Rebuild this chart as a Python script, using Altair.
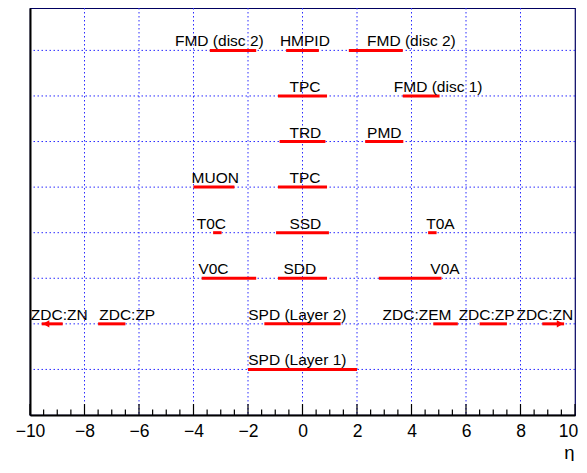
import altair as alt
import pandas as pd

# ---- data ----
names = ["FMD (disc 2)", "HMPID", "FMD (disc 2)", "TPC", "FMD (disc 1)", "TRD", "PMD",
         "MUON", "TPC", "T0C", "SSD", "T0A", "V0C", "SDD", "V0A",
         "ZDC:ZN", "ZDC:ZP", "SPD (Layer 2)", "ZDC:ZEM", "ZDC:ZP", "ZDC:ZN", "SPD (Layer 1)"]
rows = [8, 8, 8, 7, 7, 6, 6, 5, 5, 4, 4, 4, 3, 3, 3, 2, 2, 2, 2, 2, 2, 1]
eta_min = [-3.40, -0.60, 1.70, -0.90, 3.68, -0.84, 2.30, -4.00, -0.90, -3.28, -0.97, 4.61,
           -3.70, -0.90, 2.80, -9.57, -7.50, -1.40, 4.80, 6.50, 8.80, -2.00]
eta_max = [-1.70, 0.60, 3.68, 0.90, 5.03, 0.84, 3.70, -2.50, 0.90, -2.97, 0.97, 4.92,
           -1.70, 0.90, 5.10, -8.80, -6.50, 1.40, 5.70, 7.50, 9.60, 2.00]
label_eta = [-4.68, -0.83, 2.37, -0.48, 3.35, -0.48, 2.37, -4.07, -0.48, -3.88, -0.48, 4.54,
             -3.82, -0.70, 4.69, -9.97, -7.46, -1.99, 2.94, 5.73, 7.85, -1.99]

arrow_eta = [-9.41, 9.45]
arrow_row = [2, 2]
arrow_shape = ["triangle-left", "triangle-right"]

grid_x = [-8, -6, -4, -2, 0, 2, 4, 6, 8]
grid_y = [1, 2, 3, 4, 5, 6, 7, 8]
major_ticks = [-10, -8, -6, -4, -2, 0, 2, 4, 6, 8, 10]
minor_ticks = [v / 2 for v in range(-20, 21) if v % 4 != 0]

W, H = 545, 407
FONT = "Liberation Sans"

seg = pd.DataFrame({"name": names, "row": rows, "lo": eta_min, "hi": eta_max, "lx": label_eta})
arr = pd.DataFrame({"eta": arrow_eta, "row": arrow_row, "shape": arrow_shape})
gx = pd.DataFrame({"v": grid_x})
gy = pd.DataFrame({"v": grid_y})
tmaj = pd.DataFrame({"v": major_ticks})
tmin = pd.DataFrame({"v": minor_ticks})

xs = alt.Scale(domain=[-10, 10], nice=False, zero=False)
ys = alt.Scale(domain=[0, 8.93], nice=False, zero=False)

x_axis = alt.Axis(values=major_ticks, ticks=False, grid=False, domain=True,
                  domainColor="black", domainWidth=2, labelFont=FONT, labelFontSize=17.5,
                  labelColor="black", labelPadding=7, labelFlush=False,
                  labelOffset={"condition": {"test": "datum.value == 10", "value": -7}, "value": 0},
                  title="η", titleFont=FONT, titleFontSize=18.5, titleFontWeight="normal",
                  titleColor="black", titleAnchor="end", titleAlign="right",
                  titleBaseline="alphabetic", titleX=W - 1, titleY=43, zindex=1)
y_axis = alt.Axis(labels=False, ticks=False, grid=False, domain=True,
                  domainColor="black", domainWidth=2, title=None, zindex=1)

grid_color = "#2a2aff"

vgrid = alt.Chart(gx).mark_rule(color=grid_color, strokeWidth=1, strokeDash=[1.5, 2.5]).encode(
    x=alt.X("v:Q", scale=xs, axis=x_axis))
hgrid = alt.Chart(gy).mark_rule(color=grid_color, strokeWidth=1, strokeDash=[1.5, 2.5]).encode(
    y=alt.Y("v:Q", scale=ys, axis=y_axis))

major = alt.Chart(tmaj).mark_rule(color="black", strokeWidth=1.2).encode(
    x=alt.X("v:Q", scale=xs, axis=x_axis), y=alt.value(H), y2=alt.value(H - 11))
minor = alt.Chart(tmin).mark_rule(color="black", strokeWidth=1.2).encode(
    x=alt.X("v:Q", scale=xs, axis=x_axis), y=alt.value(H), y2=alt.value(H - 5.5))

segs = alt.Chart(seg).mark_rule(color="#ff0000", strokeWidth=3).encode(
    x=alt.X("lo:Q", scale=xs, axis=x_axis), x2="hi:Q",
    y=alt.Y("row:Q", scale=ys, axis=y_axis))

heads = alt.Chart(arr).mark_point(filled=True, color="#ff0000", opacity=1, size=55).encode(
    x=alt.X("eta:Q", scale=xs, axis=x_axis),
    y=alt.Y("row:Q", scale=ys, axis=y_axis),
    shape=alt.Shape("shape:N", scale=None, legend=None))

labels = alt.Chart(seg).mark_text(align="left", baseline="alphabetic", dy=-4,
                                  font=FONT, fontSize=15.5, color="black").encode(
    x=alt.X("lx:Q", scale=xs, axis=x_axis),
    y=alt.Y("row:Q", scale=ys, axis=y_axis),
    text="name:N")

chart = alt.layer(vgrid, hgrid, major, minor, segs, heads, labels).properties(
    width=W, height=H,
    background="white",
    autosize=alt.AutoSizeParams(type="none"),
    padding={"left": 22, "top": 0, "right": 4, "bottom": 46},
).configure_view(stroke="#000060", strokeWidth=1.2)

chart.save("out.html", embed_options={"renderer": "svg", "actions": False})
